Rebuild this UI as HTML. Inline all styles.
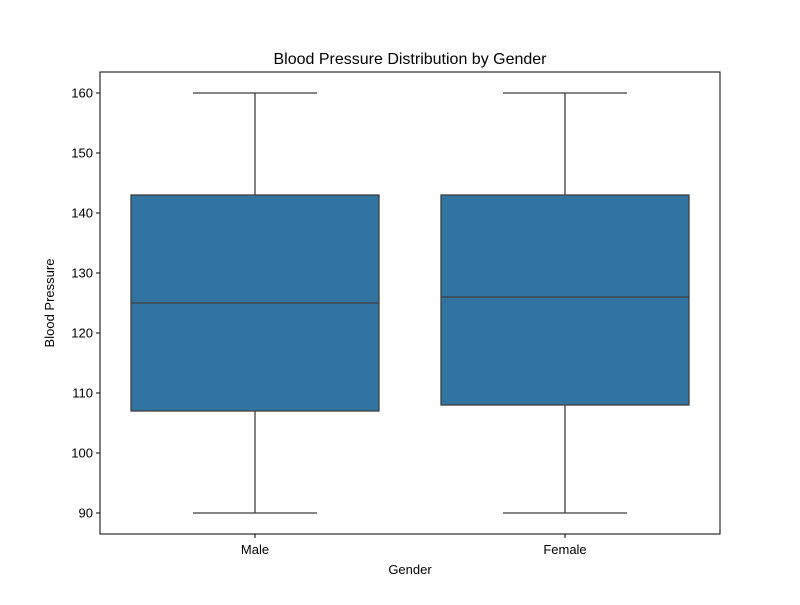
<!DOCTYPE html>
<html><head><meta charset="utf-8"><style>
html,body{margin:0;padding:0;background:#fff;}
svg text{font-family:"Liberation Sans","DejaVu Sans",sans-serif;fill:#000;}
</style></head>
<body>
<svg id="chart" width="800" height="600" viewBox="0 0 800 600" xmlns="http://www.w3.org/2000/svg">
<rect width="800" height="600" fill="#fff"/>
<text x="410" y="64" font-size="16" text-anchor="middle">Blood Pressure Distribution by Gender</text>
<g id="plot"></g>
<rect x="100" y="72" width="620" height="462" fill="none" stroke="#000" stroke-width="1"/>
<text x="410" y="574" font-size="13" text-anchor="middle">Gender</text>
<text transform="translate(54,303) rotate(-90)" font-size="13" text-anchor="middle">Blood Pressure</text>
</svg>
<script>
const categories = ["Male", "Female"];
const mins = [90, 90];
const q1s = [107, 108];
const medians = [125, 126];
const q3s = [143, 143];
const maxs = [160, 160];
const yTicks = [90, 100, 110, 120, 130, 140, 150, 160];

const L = 100, R = 720, T = 72, B = 534;
const yMin = 86.5, yMax = 163.5;
function y(v){ return B - (v - yMin) / (yMax - yMin) * (B - T); }
const band = (R - L) / categories.length;
function xc(i){ return L + band * (i + 0.5); }

const NS = "http://www.w3.org/2000/svg";
const g = document.getElementById('plot');
function mk(tag, attrs){ const e = document.createElementNS(NS, tag); for (const k in attrs) e.setAttribute(k, attrs[k]); g.appendChild(e); return e; }

yTicks.forEach(t => {
  const ln = mk('line', {x1: L - 4, x2: L, y1: y(t), y2: y(t), stroke: '#000'});
  
  
  const tx = mk('text', {x: L - 7, y: y(t) + 4.5, 'font-size': 13, 'text-anchor': 'end'});
  tx.textContent = t;
  
  
});

categories.forEach((c, i) => {
  const cx = xc(i), bw = band * 0.8, cw = bw / 2;
  const w1 = mk('line', {x1: cx, x2: cx, y1: y(q3s[i]), y2: y(maxs[i]), stroke: '#3f3f3f', 'stroke-width': 1.3});
  
  
  const w2 = mk('line', {x1: cx, x2: cx, y1: y(q1s[i]), y2: y(mins[i]), stroke: '#3f3f3f', 'stroke-width': 1.3});
  
  
  const c1 = mk('line', {x1: cx - cw / 2, x2: cx + cw / 2, y1: y(maxs[i]), y2: y(maxs[i]), stroke: '#3f3f3f', 'stroke-width': 1.3});
  
  
  const c2 = mk('line', {x1: cx - cw / 2, x2: cx + cw / 2, y1: y(mins[i]), y2: y(mins[i]), stroke: '#3f3f3f', 'stroke-width': 1.3});
  
  
  const box = mk('rect', {x: cx - bw / 2, y: y(q3s[i]), width: bw, height: y(q1s[i]) - y(q3s[i]), fill: '#3274a1', stroke: '#3f3f3f', 'stroke-width': 1.3});
  
  
  const md = mk('line', {x1: cx - bw / 2, x2: cx + bw / 2, y1: y(medians[i]), y2: y(medians[i]), stroke: '#3f3f3f', 'stroke-width': 1.3});
  
  
  const tk = mk('line', {x1: cx, x2: cx, y1: B, y2: B + 4, stroke: '#000'});
  
  
  const tx = mk('text', {x: cx, y: B + 20, 'font-size': 13, 'text-anchor': 'middle'});
  tx.textContent = c;
  
  
});
</script>
</body></html>
